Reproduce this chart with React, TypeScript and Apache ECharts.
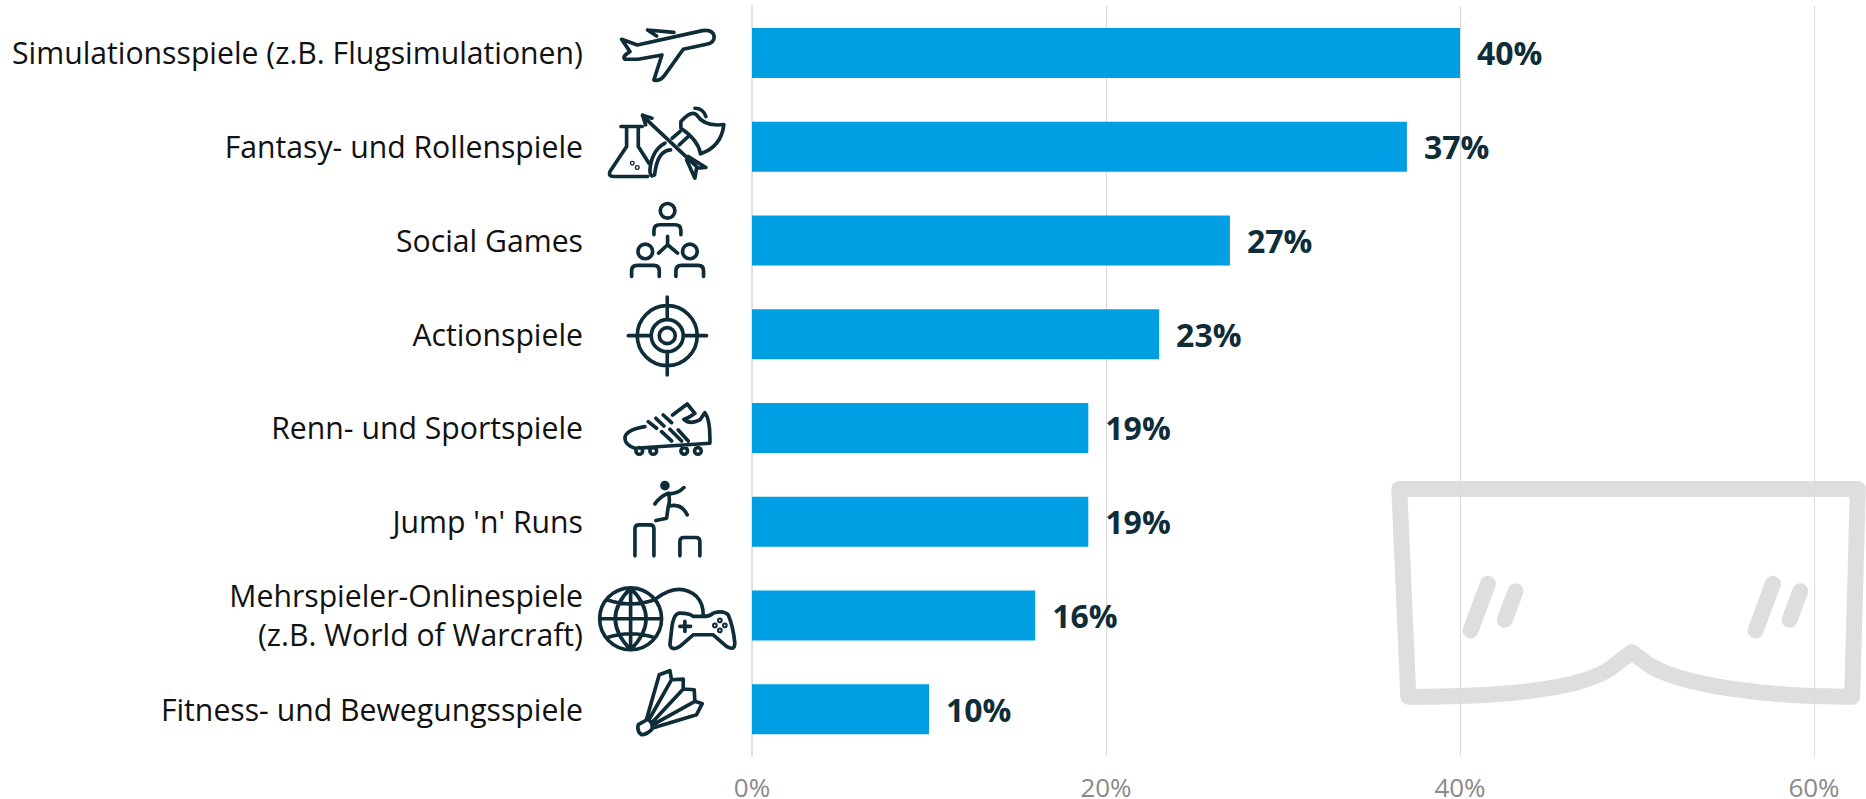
import React, { useEffect, useRef } from "react";
import * as echarts from "echarts";

const categories = [
  "Simulationsspiele (z.B. Flugsimulationen)",
  "Fantasy- und Rollenspiele",
  "Social Games",
  "Actionspiele",
  "Renn- und Sportspiele",
  "Jump 'n' Runs",
  "Mehrspieler-Onlinespiele\n(z.B. World of Warcraft)",
  "Fitness- und Bewegungsspiele",
];
const values = [40, 37, 27, 23, 19, 19, 16, 10];
const tickStep = 20;
const axisMax = 60;

const INK = "#0f2d38";
const c = (x: number, y: number, r: number) =>
  `M${x - r} ${y}A${r} ${r} 0 1 1 ${x + r} ${y}A${r} ${r} 0 1 1 ${x - r} ${y}Z`;

const iconsTop =
  // plane
  "M125 118L172 135L368 92Q400 88 403 110Q403 128 380 133L310 148L255 225Q240 246 222 240L246 165L175 178L135 178Q125 170 150 155Z" +
  "M203 90L282 97M203 90L230 108" +
  // flask
  "M123 380H187M140 380V440L90 515Q85 530 100 530H203M175 380V440L207 490" +
  c(157, 490, 2) + c(172, 503, 2) +
  // arrow, axe
  "M188 348L352 502M188 346L216 355M188 346L197 375M320 480L345 535L350 505L378 503L325 470" +
  "M303 365Q335 330 350 345Q375 382 432 374Q425 440 362 462Q355 420 303 385Z" +
  "M345 325Q370 325 378 350M277 415L300 395M298 435L325 410" +
  "M272 450Q232 452 224 525Q210 535 210 510Q215 452 255 430" +
  // people
  c(263, 633, 22) + "M222 705V692Q222 675 240 675H285Q303 675 303 692V705" +
  "M263 710V735M263 735L236 760M263 735L293 760" +
  c(196, 755, 22) + "M155 830V814Q155 797 172 797H222Q238 797 238 814V830" +
  c(330, 755, 22) + "M288 830V814Q288 797 305 797H355Q371 797 371 814V830" +
  // target
  c(262, 1008, 90) + c(262, 1008, 48) + c(262, 1008, 24) +
  "M262 892V960M262 1056V1126M145 1008H214M310 1008H380";

const iconsBottom =
  // boot
  "M278 45L322 12L345 40Q325 55 312 58Q330 75 360 60L375 38Q392 60 390 130L165 145Q135 135 135 115Q135 90 195 80" +
  "M205 65L230 85M228 55L252 78M250 45L275 68M245 95L275 123M270 88L305 123M295 90L325 123" +
  c(178, 153, 10) + c(220, 153, 10) + c(313, 153, 10) + c(354, 153, 10) +
  // jumper
  c(255, 257, 9) + "M255 257L256 258" +
  "M312 263Q290 285 265 280Q240 290 225 312M265 280Q272 300 265 320L260 355L228 362M270 318Q305 310 322 345" +
  "M165 468V387Q165 375 177 375H210Q222 375 222 387V468M300 468V425Q300 413 312 413H348Q360 413 360 425V468" +
  // globe and gamepad
  c(152, 657, 93) + "M152 565V750M60 657H245M80 600Q152 625 225 600M80 714Q152 690 225 714" +
  "M152 565Q60 657 152 750Q245 657 152 565Z" +
  "M230 595Q300 545 350 590Q370 610 370 645" +
  "M300 640Q280 640 275 690L270 735Q275 755 300 740L340 705H400L440 740Q465 755 465 730Q460 680 445 645Q430 630 400 640Q390 650 370 650H340Q330 640 300 640Z" +
  "M315 665V695M300 680H332" +
  c(420, 662, 3) + c(420, 692, 3) + c(405, 677, 3) + c(435, 677, 3) +
  // shuttlecock
  "M175 975L205 958Q222 975 215 990Q200 1005 185 1005Q170 995 175 975Z" +
  "M200 958L238 825L270 813L275 840L310 838L310 868L343 870L345 905L367 912L350 945L218 985" +
  "M210 955L275 840M220 965L310 868M225 972L345 905";

const goggles =
  "M88 87H1465L1448 711C1200 711 930 680 830 610L786 577L742 610C660 690 400 711 115 711Z";
const gogglesGlints =
  "M354 372L302 512M437 394L405 480M1210 372L1158 512M1292 394L1260 480";
const gridColor = "#d9d9d9";

echarts.graphic.registerShape("iconsTop", echarts.graphic.extendPath(iconsTop, {}));
echarts.graphic.registerShape("iconsBottom", echarts.graphic.extendPath(iconsBottom, {}));
echarts.graphic.registerShape("goggles", echarts.graphic.extendPath(goggles, {}));
echarts.graphic.registerShape("gogglesGlints", echarts.graphic.extendPath(gogglesGlints, {}));

export default function App() {
  const ref = useRef<HTMLDivElement>(null);
  useEffect(() => {
    const chart = echarts.init(ref.current!, null, { renderer: "svg" });
    const iconStyle = { fill: "none", stroke: INK, lineWidth: 11, lineJoin: "round", lineCap: "round" };
    const wmStyle = { fill: "none", stroke: "#dedede", lineWidth: 48, lineJoin: "round", lineCap: "round" };
    chart.setOption({
      animation: false,
      backgroundColor: "#fff",
      textStyle: { fontFamily: "Open Sans" },
      grid: { left: 752, top: 6, right: 52, bottom: 43, containLabel: false, outerBoundsMode: "none" },
      graphic: [
        { type: "goggles", x: 1370, y: 460, scaleX: 1 / 3, scaleY: 1 / 3, z: -1, silent: true, style: wmStyle },
        { type: "gogglesGlints", x: 1370, y: 460, scaleX: 1 / 3, scaleY: 1 / 3, z: -1, silent: true, style: wmStyle },
        { type: "iconsTop", x: 580, y: 0, scaleX: 1 / 3, scaleY: 1 / 3, silent: true, style: iconStyle },
        { type: "iconsBottom", x: 580, y: 400, scaleX: 1 / 3, scaleY: 1 / 3, silent: true, style: iconStyle },
      ],
      xAxis: {
        type: "value",
        min: 0,
        max: axisMax,
        interval: tickStep,
        axisLine: { show: false },
        axisTick: { show: false },
        splitLine: { show: true, lineStyle: { color: gridColor, width: 1 } },
        axisLabel: {
          formatter: "{value}%",
          color: "#8a8a8a",
          fontSize: 26,
          lineHeight: 22,
          margin: 20,
          fontFamily: "Open Sans",
          hideOverlap: false,
        },
      },
      yAxis: {
        type: "category",
        inverse: true,
        data: categories,
        axisLine: { show: true, lineStyle: { color: "#e0e0e0", width: 2 } },
        axisTick: { show: false },
        axisLabel: {
          color: "#111",
          fontSize: 30.2,
          lineHeight: 39,
          margin: 169,
          fontFamily: "Open Sans",
          interval: 0,
        },
      },
      series: [
        {
          type: "bar",
          data: values,
          barWidth: 50,
          itemStyle: { color: "#009fe3" },
          label: {
            show: true,
            position: "right",
            distance: 17,
            formatter: "{c}%",
            color: INK,
            fontSize: 32,
            fontWeight: 700,
            fontFamily: "Open Sans",
          },
        },
      ],
    });
    return () => chart.dispose();
  }, []);
  return <div ref={ref} style={{ position: "absolute", left: 0, top: 0, width: 1866, height: 799 }} />;
}
